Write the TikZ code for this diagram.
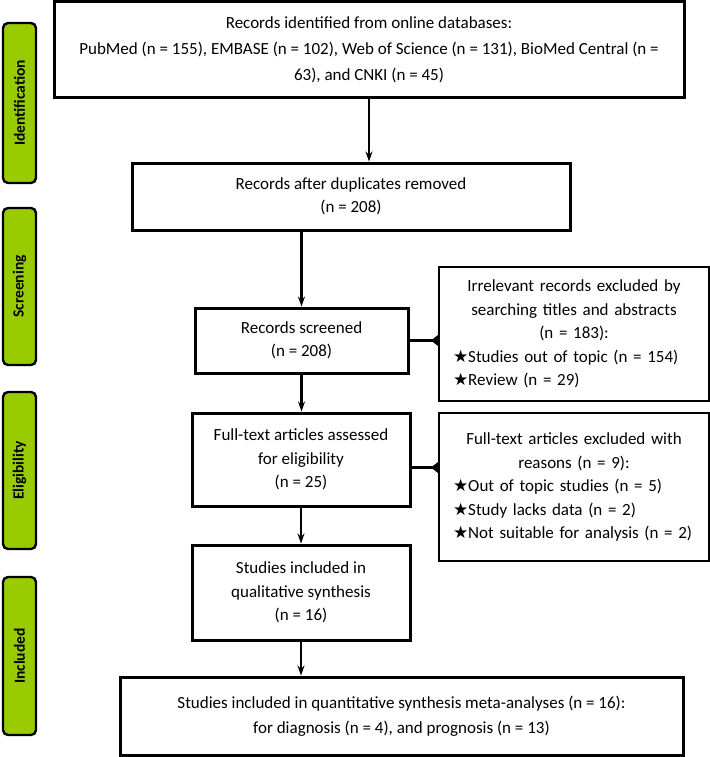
\documentclass[tikz,border=0pt]{standalone}
\usepackage{fontspec}
\setmainfont{Carlito}
\newfontfamily\symfont{DejaVu Sans}
\usetikzlibrary{arrows.meta, positioning}
\definecolor{phasegreen}{HTML}{99CC00}
\newcommand{\bstar}{{\symfont\char"2605}}

\begin{document}
\begin{tikzpicture}[
    x=1pt, y=-1pt,
    >={Stealth[length=10pt,width=7pt]},
    font=\fontsize{17}{23.5}\selectfont,
    box/.style={rectangle, draw, line width=3pt, align=center, inner sep=0pt},
    exbox/.style={rectangle, draw, line width=2pt, anchor=north west, text width=242pt, inner xsep=14pt, inner ysep=0pt, minimum width=270pt},
    phase/.style={rectangle, draw, rounded corners=5pt, fill=phasegreen, line width=2.4pt, rotate=90, minimum height=33pt, inner sep=0pt, font=\fontsize{15.5}{18}\selectfont\bfseries},
    line/.style={draw, ->, line width=2.2pt},
    side/.style={draw, -{Latex[reversed,length=8pt,width=12pt]}, line width=2.2pt}
]
    \useasboundingbox (0,0) rectangle (709,757);

    % phase bars
    \node (ident) [phase, minimum width=160pt] at (19.5,103) {Identification};
    \node (screen) [phase, minimum width=157pt] at (19.5,286.5) {Screening};
    \node (eligbar) [phase, minimum width=157pt] at (19.5,470.5) {Eligibility};
    \node (incl) [phase, minimum width=158pt] at (19.5,656) {Included};

    % main column
    \node (rec) [box, minimum width=630pt, minimum height=96pt, font=\fontsize{17}{26}\selectfont] at (369,50)
        {Records identified from online databases:\\
         PubMed (n = 155), EMBASE (n = 102), Web of Science (n = 131), BioMed Central (n =\\
         63), and CNKI (n = 45)};
    \node (dup) [box, minimum width=438pt, minimum height=67pt] at (351,196.5)
        {Records after duplicates removed\\(n = 208)};
    \node (scr) [box, minimum width=213pt, minimum height=65pt] at (301.5,340.5)
        {Records screened\\(n = 208)};
    \node (elig) [box, minimum width=218pt, minimum height=93pt] at (301,459.5)
        {Full-text articles assessed\\for eligibility\\(n = 25)};
    \node (qual) [box, minimum width=218pt, minimum height=95pt] at (301,592.5)
        {Studies included in\\qualitative synthesis\\(n = 16)};
    \node (quant) [box, minimum width=563pt, minimum height=78pt, font=\fontsize{17}{25}\selectfont] at (401.5,716)
        {Studies included in quantitative synthesis meta-analyses (n = 16):\\
         for diagnosis (n = 4), and prognosis (n = 13)};

    % exclusions
    \node (ex1) [exbox, minimum height=134pt] at (438,266)
        {\centering Irrelevant records excluded by\\searching titles and abstracts\\(n = 183):\par
         \raggedright\bstar Studies out of topic (n = 154)\\\bstar Review (n = 29)};
    \node (ex2) [exbox, minimum height=148pt] at (438,412)
        {\centering Full-text articles excluded with\\reasons (n = 9):\par
         \raggedright\bstar Out of topic studies (n = 5)\\\bstar Study lacks data (n = 2)\\\bstar Not suitable for analysis (n = 2)};

    \draw[line] (rec.south) -- (rec.south |- dup.north);
    \draw[line] (scr.north |- dup.south) -- (scr.north);
    \draw[line] (scr.south) -- (scr.south |- elig.north);
    \draw[line] (elig.south) -- (elig.south |- qual.north);
    \draw[line] (qual.south) -- (qual.south |- quant.north);

    \draw[side] (scr.east) -- (scr.east -| ex1.west);
    \draw[side] ([yshift=-8pt]elig.east) -- ([yshift=-8pt]elig.east -| ex2.west);

\end{tikzpicture}
\end{document}
